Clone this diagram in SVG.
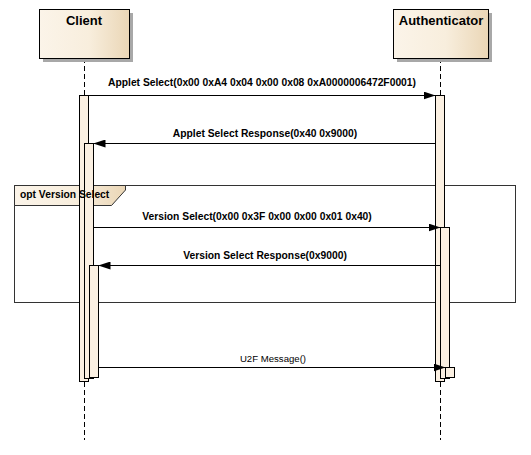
<svg xmlns="http://www.w3.org/2000/svg" width="531" height="455" viewBox="0 0 531 455">
<defs>
<linearGradient id="g" x1="0" y1="0" x2="1" y2="0">
<stop offset="0" stop-color="#FBF4E9"/>
<stop offset="0.55" stop-color="#F8EEDD"/>
<stop offset="1" stop-color="#EAD6B6"/>
</linearGradient>
<marker id="ah" markerWidth="12" markerHeight="8" refX="12" refY="4" orient="auto" markerUnits="userSpaceOnUse">
<path d="M0,0 L12,4 L0,8 Z" fill="#000"/>
</marker>
<style>
.t{font-family:"Liberation Sans",Arial,sans-serif;fill:#000}
.h{font-size:13px;font-weight:bold;text-anchor:middle}
.l{font-size:10.3px;font-weight:bold;text-anchor:middle}
.r{font-size:9.6px;text-anchor:middle}
.box{fill:url(#g);stroke:#000;stroke-width:1}
.sh{fill:#A8A8A8}
.life{stroke:#000;stroke-width:1;stroke-dasharray:5,3;fill:none}
.act{fill:#FBF0E2;stroke:#000;stroke-width:1}
.msg{stroke:#000;stroke-width:1;fill:none;marker-end:url(#ah)}
.frame{fill:none;stroke:#333;stroke-width:1}
</style>
</defs>
<rect width="531" height="455" fill="#fff"/>

<g id="lifelines">
<line class="life" x1="84.5" y1="58" x2="84.5" y2="96"/>
<line class="life" x1="84.5" y1="382" x2="84.5" y2="440"/>
<line class="life" x1="440.5" y1="58" x2="440.5" y2="96"/>
<line class="life" x1="440.5" y1="382" x2="440.5" y2="440"/>
</g>

<g id="client">
<rect class="sh" x="43" y="13" width="90" height="49"/>
<rect class="box" x="39.5" y="9.5" width="90" height="49"/>
<text class="t h" x="84" y="25">Client</text>
</g>

<g id="authenticator">
<rect class="sh" x="397" y="13" width="95" height="49"/>
<rect class="box" x="393.5" y="9.5" width="95" height="49"/>
<text class="t h" x="441" y="25">Authenticator</text>
</g>

<g id="opt-fragment">
<rect class="frame" x="14.5" y="185.5" width="501" height="117"/>
<path d="M14.5,185.5 H125.5 V190 L111.5,205.5 H14.5 Z" fill="url(#g)" stroke="#333" stroke-width="1"/>
</g>

<g id="activations">
<rect class="act" x="79.5" y="95.5" width="9" height="286"/>
<rect class="act" x="84.5" y="143.5" width="9" height="235"/>
<rect class="act" x="89.5" y="265.5" width="9" height="112"/>
<rect class="act" x="435.5" y="95.5" width="9" height="286"/>
<rect class="act" x="440.5" y="227.5" width="9" height="151"/>
<rect class="act" x="445.5" y="367.5" width="9" height="10"/>
</g>

<text class="t" x="20" y="198" font-size="10.3" font-weight="bold">opt Version Select</text>

<g id="connectors">
<line class="msg" x1="88.5" y1="95.5" x2="435.5" y2="95.5"/>
<line class="msg" x1="435.5" y1="143.5" x2="93.5" y2="143.5"/>
<line class="msg" x1="93.5" y1="227.5" x2="440.5" y2="227.5"/>
<line class="msg" x1="440.5" y1="265.5" x2="98.5" y2="265.5"/>
<line class="msg" x1="98.5" y1="367.5" x2="445.5" y2="367.5"/>
</g>

<g id="labels">
<text class="t l" x="262" y="86">Applet Select(0x00 0xA4 0x04 0x00 0x08 0xA0000006472F0001)</text>
<text class="t l" x="265" y="137">Applet Select Response(0x40 0x9000)</text>
<text class="t l" x="257" y="220">Version Select(0x00 0x3F 0x00 0x00 0x01 0x40)</text>
<text class="t l" x="265" y="259">Version Select Response(0x9000)</text>
<text class="t r" x="273" y="362">U2F Message()</text>
</g>
</svg>
